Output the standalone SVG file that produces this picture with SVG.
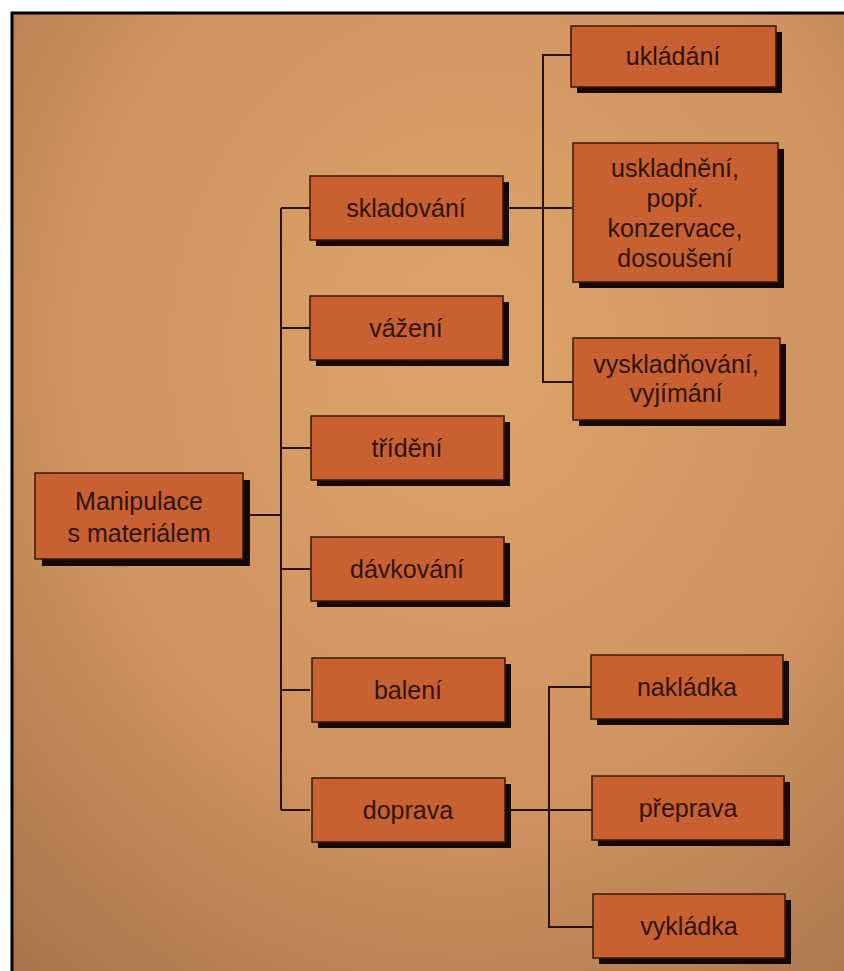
<svg xmlns="http://www.w3.org/2000/svg" width="844" height="971" viewBox="0 0 844 971">
  <defs>
    <radialGradient id="bg" cx="0.55" cy="0.35" r="0.85">
      <stop offset="0" stop-color="#dca469"/>
      <stop offset="0.55" stop-color="#cf9460"/>
      <stop offset="1" stop-color="#a8744d"/>
    </radialGradient>
    <style>
      .box { fill: #c9602f; stroke: #3a170c; stroke-width: 1.5; }
      .shadow { fill: #160804; }
      .lbl { font-family: "Liberation Sans", Arial, sans-serif; font-size: 25px; fill: #2e140c; text-anchor: middle; }
      .conn { fill: none; stroke: #2a120a; stroke-width: 2; }
    </style>
  </defs>
  <rect x="0" y="0" width="844" height="971" fill="#ffffff"/>
  <rect x="12" y="13" width="832" height="958" fill="url(#bg)"/>
  <line x1="11" y1="13" x2="844" y2="13" stroke="#000" stroke-width="3"/>
  <line x1="12" y1="12" x2="12" y2="971" stroke="#000" stroke-width="3"/>

  <g id="connectors">
    <path class="conn" d="M243,515 H281"/>
    <path class="conn" d="M281,208 V810"/>
    <path class="conn" d="M281,208 H310 M281,328 H310 M281,448 H310 M281,569 H310 M281,690 H310 M281,810 H310"/>
    <path class="conn" d="M503,208 H572"/>
    <path class="conn" d="M572,55 H543 V382 H573"/>
    <path class="conn" d="M505,810 H592"/>
    <path class="conn" d="M591,687 H549 V927 H593"/>
  </g>

  <g id="root">
    <rect class="shadow" x="42" y="480" width="208" height="86"/>
    <rect class="box" x="35" y="473" width="208" height="86"/>
    <text class="lbl" x="139" y="510">Manipulace</text>
    <text class="lbl" x="139" y="542">s materiálem</text>
  </g>

  <g id="skladovani">
    <rect class="shadow" x="316" y="182" width="193" height="64"/>
    <rect class="box" x="310" y="176" width="193" height="64"/>
    <text class="lbl" x="406" y="217">skladování</text>
  </g>
  <g id="vazeni">
    <rect class="shadow" x="316" y="302" width="193" height="64"/>
    <rect class="box" x="310" y="296" width="193" height="64"/>
    <text class="lbl" x="406" y="337">vážení</text>
  </g>
  <g id="trideni">
    <rect class="shadow" x="317" y="422" width="193" height="64"/>
    <rect class="box" x="311" y="416" width="193" height="64"/>
    <text class="lbl" x="407" y="457">třídění</text>
  </g>
  <g id="davkovani">
    <rect class="shadow" x="317" y="543" width="193" height="64"/>
    <rect class="box" x="311" y="537" width="193" height="64"/>
    <text class="lbl" x="407" y="578">dávkování</text>
  </g>
  <g id="baleni">
    <rect class="shadow" x="318" y="664" width="193" height="64"/>
    <rect class="box" x="312" y="658" width="193" height="64"/>
    <text class="lbl" x="408" y="699">balení</text>
  </g>
  <g id="doprava">
    <rect class="shadow" x="318" y="784" width="193" height="64"/>
    <rect class="box" x="312" y="778" width="193" height="64"/>
    <text class="lbl" x="408" y="819">doprava</text>
  </g>

  <g id="ukladani">
    <rect class="shadow" x="577" y="32" width="205" height="61"/>
    <rect class="box" x="571" y="26" width="205" height="61"/>
    <text class="lbl" x="673" y="65">ukládání</text>
  </g>
  <g id="uskladneni">
    <rect class="shadow" x="579" y="149" width="205" height="139"/>
    <rect class="box" x="573" y="143" width="205" height="139"/>
    <text class="lbl" x="675" y="177">uskladnění,</text>
    <text class="lbl" x="675" y="207">popř.</text>
    <text class="lbl" x="675" y="237">konzervace,</text>
    <text class="lbl" x="675" y="267">dosoušení</text>
  </g>
  <g id="vyskladnovani">
    <rect class="shadow" x="579" y="344" width="207" height="82"/>
    <rect class="box" x="573" y="338" width="207" height="82"/>
    <text class="lbl" x="676" y="373">vyskladňování,</text>
    <text class="lbl" x="676" y="402">vyjímání</text>
  </g>

  <g id="nakladka">
    <rect class="shadow" x="597" y="661" width="192" height="64"/>
    <rect class="box" x="591" y="655" width="192" height="64"/>
    <text class="lbl" x="687" y="696">nakládka</text>
  </g>
  <g id="preprava">
    <rect class="shadow" x="598" y="782" width="192" height="64"/>
    <rect class="box" x="592" y="776" width="192" height="64"/>
    <text class="lbl" x="688" y="817">přeprava</text>
  </g>
  <g id="vykladka">
    <rect class="shadow" x="599" y="900" width="192" height="64"/>
    <rect class="box" x="593" y="894" width="192" height="64"/>
    <text class="lbl" x="689" y="935">vykládka</text>
  </g>
</svg>
